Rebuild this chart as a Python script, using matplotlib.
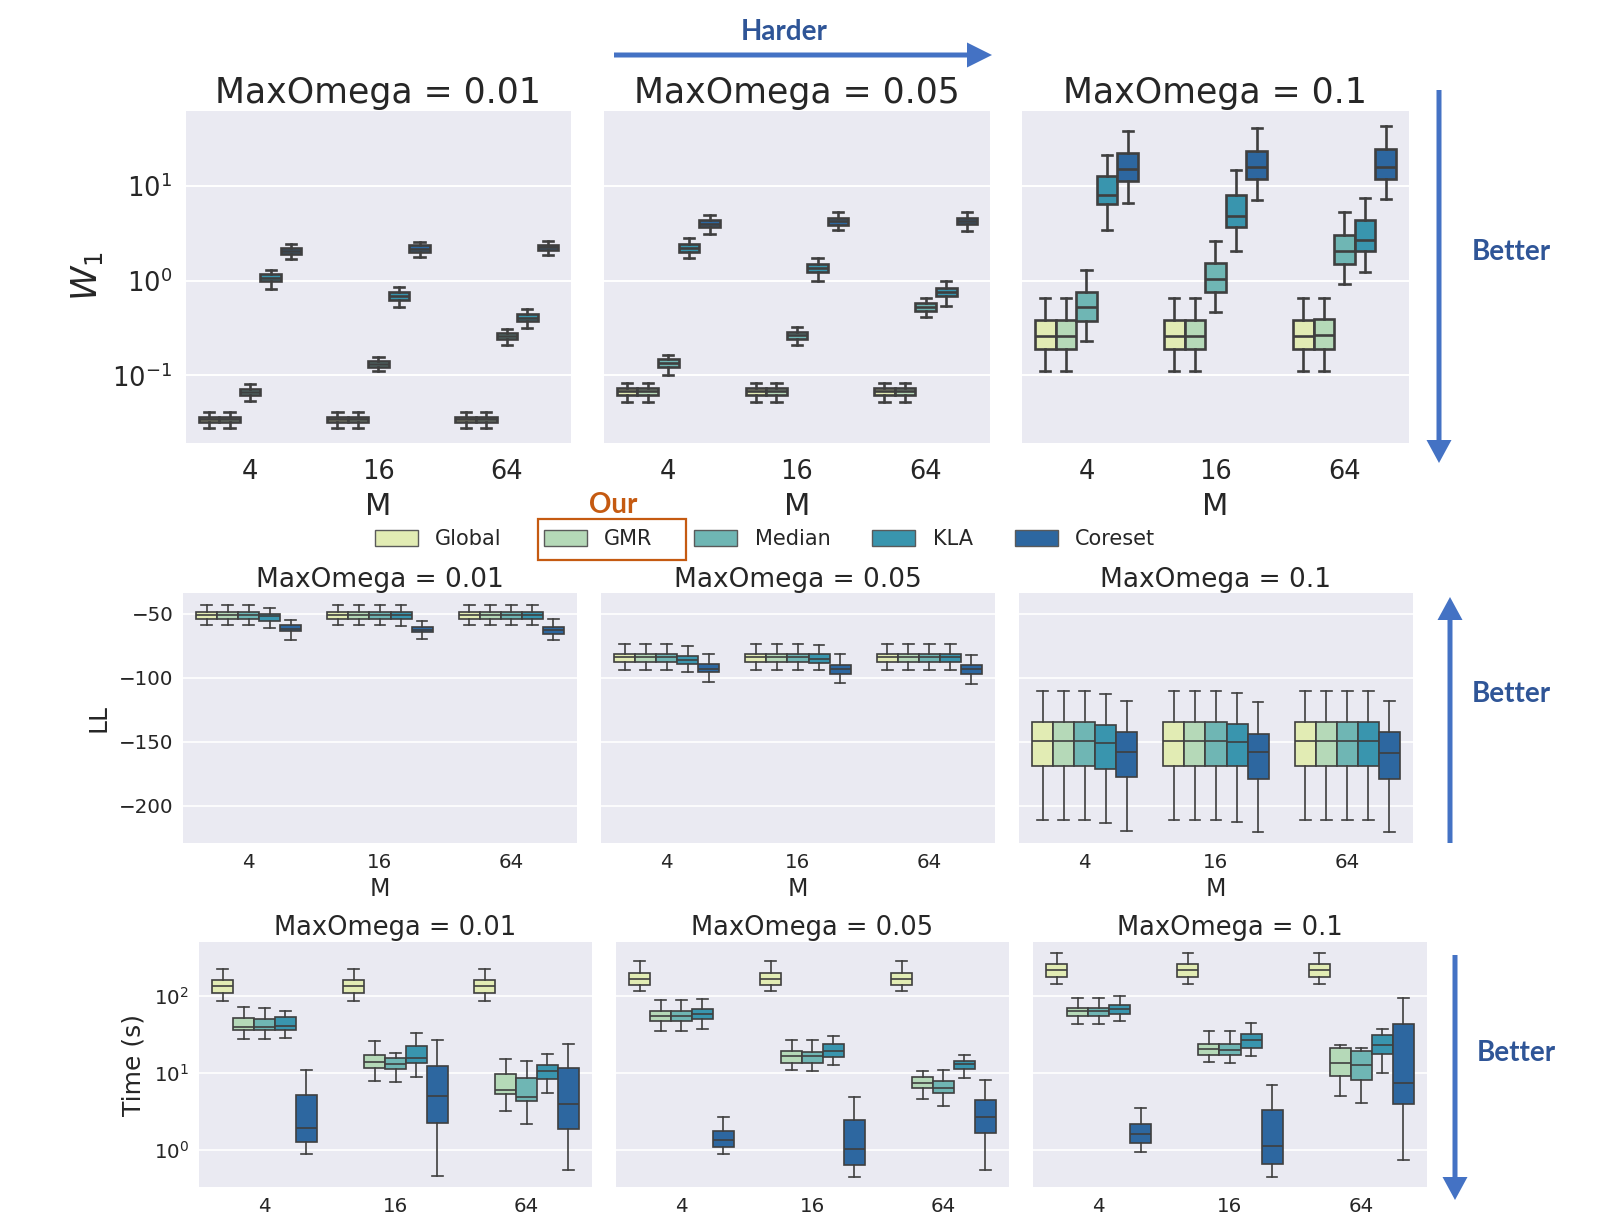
import matplotlib
matplotlib.use("Agg")
import matplotlib.pyplot as plt
from matplotlib.patches import Patch, Rectangle

# ---------------- data (whislo, q1, median, q3, whishi) ----------------
methods = ["Global", "GMR", "Median", "KLA", "Coreset"]
M_labels = ["4", "16", "64"]
omega_labels = ["0.01", "0.05", "0.1"]
colors = ["#e2ecb4", "#b5d9b8", "#6fb6b4", "#3995ae", "#2d67a0"]

W1_001 = [
    [[0.0275, 0.0320, 0.0347, 0.0364, 0.0408], [0.0275, 0.0320, 0.0347, 0.0364, 0.0408],
     [0.0532, 0.0616, 0.0668, 0.0724, 0.0817], [0.824, 0.992, 1.08, 1.17, 1.29],
     [1.72, 1.92, 2.07, 2.22, 2.47]],
    [[0.0275, 0.0320, 0.0347, 0.0364, 0.0408], [0.0275, 0.0320, 0.0347, 0.0364, 0.0408],
     [0.110, 0.122, 0.133, 0.143, 0.156], [0.532, 0.626, 0.690, 0.766, 0.865],
     [1.79, 2.02, 2.19, 2.37, 2.58]],
    [[0.0275, 0.0320, 0.0347, 0.0364, 0.0408], [0.0275, 0.0320, 0.0347, 0.0364, 0.0408],
     [0.210, 0.241, 0.258, 0.279, 0.308], [0.313, 0.376, 0.408, 0.443, 0.499],
     [1.86, 2.10, 2.28, 2.41, 2.62]],
]
W1_005 = [
    [[0.0524, 0.0616, 0.0679, 0.0736, 0.0830], [0.0524, 0.0616, 0.0679, 0.0736, 0.0830],
     [0.102, 0.122, 0.135, 0.149, 0.165], [1.75, 2.00, 2.22, 2.43, 2.84],
     [3.15, 3.70, 4.02, 4.36, 4.99]],
    [[0.0524, 0.0616, 0.0679, 0.0736, 0.0830], [0.0524, 0.0616, 0.0679, 0.0736, 0.0830],
     [0.209, 0.241, 0.264, 0.290, 0.323], [1.00, 1.23, 1.38, 1.52, 1.75],
     [3.41, 3.85, 4.25, 4.64, 5.28]],
    [[0.0524, 0.0616, 0.0679, 0.0736, 0.0830], [0.0524, 0.0616, 0.0679, 0.0736, 0.0830],
     [0.411, 0.480, 0.528, 0.577, 0.652], [0.541, 0.695, 0.766, 0.838, 1.00],
     [3.39, 3.95, 4.29, 4.64, 5.30]],
]
W1_01 = [
    [[0.112, 0.191, 0.258, 0.385, 0.662], [0.112, 0.191, 0.258, 0.385, 0.662],
     [0.233, 0.380, 0.524, 0.766, 1.285], [3.47, 6.41, 8.17, 12.9, 21.4],
     [6.68, 11.3, 15.2, 22.2, 38.5]],
    [[0.112, 0.191, 0.258, 0.385, 0.662], [0.112, 0.191, 0.258, 0.385, 0.662],
     [0.465, 0.754, 1.04, 1.55, 2.62], [2.07, 3.70, 4.83, 8.11, 14.7],
     [7.07, 11.8, 15.8, 23.5, 40.8]],
    [[0.112, 0.191, 0.258, 0.385, 0.662], [0.112, 0.191, 0.267, 0.392, 0.662],
     [0.923, 1.52, 2.05, 3.07, 5.32], [1.24, 2.05, 2.68, 4.36, 7.54],
     [7.24, 11.8, 16.1, 24.7, 43.2]],
]

LL_001 = [
    [[-59.1, -53.9, -51.3, -48.7, -43.0], [-59.1, -53.9, -51.3, -48.7, -43.0],
     [-59.1, -53.9, -51.3, -48.7, -43.0], [-61.2, -55.7, -52.1, -50.0, -45.6],
     [-70.3, -63.8, -61.7, -59.1, -54.7]],
    [[-59.1, -53.9, -51.3, -48.7, -43.0], [-59.1, -53.9, -51.3, -48.7, -43.0],
     [-59.1, -53.9, -51.3, -48.7, -43.0], [-59.9, -54.4, -51.3, -49.2, -43.5],
     [-70.0, -64.8, -62.5, -60.4, -56.0]],
    [[-59.1, -53.9, -51.3, -48.7, -43.0], [-59.1, -53.9, -51.3, -48.7, -43.0],
     [-59.1, -53.9, -51.3, -48.7, -43.0], [-59.1, -53.9, -51.3, -48.7, -43.0],
     [-70.8, -65.6, -63.0, -60.4, -53.9]],
]
LL_005 = [
    [[-93.7, -87.7, -84.3, -81.2, -73.9], [-93.7, -87.7, -84.3, -81.2, -73.9],
     [-93.7, -87.7, -84.3, -81.2, -73.9], [-95.8, -89.5, -85.9, -83.0, -75.5],
     [-103.8, -96.0, -92.9, -89.0, -81.7]],
    [[-93.7, -87.7, -84.3, -81.2, -73.9], [-93.7, -87.7, -84.3, -81.2, -73.9],
     [-93.7, -87.7, -84.3, -81.2, -73.9], [-94.2, -88.5, -85.1, -81.7, -74.2],
     [-104.1, -97.1, -93.4, -90.0, -81.7]],
    [[-93.7, -87.7, -84.3, -81.2, -73.9], [-93.7, -87.7, -84.3, -81.2, -73.9],
     [-93.7, -87.7, -84.3, -81.2, -73.9], [-93.7, -87.7, -84.3, -81.2, -73.9],
     [-104.6, -97.3, -93.4, -90.0, -82.5]],
]
LL_01 = [
    [[-211.2, -168.6, -149.1, -134.8, -110.6], [-211.2, -168.6, -149.1, -134.8, -110.6],
     [-211.2, -168.6, -149.1, -134.8, -110.6], [-213.3, -171.1, -151.1, -136.7, -112.7],
     [-219.5, -177.4, -157.9, -142.6, -117.9]],
    [[-211.2, -168.6, -149.1, -134.8, -110.6], [-211.2, -168.6, -149.1, -134.8, -110.6],
     [-211.2, -168.6, -149.1, -134.8, -110.6], [-212.5, -169.1, -150.1, -135.8, -111.9],
     [-220.8, -178.7, -158.4, -143.7, -118.9]],
    [[-211.2, -168.6, -149.1, -134.8, -110.6], [-211.2, -168.6, -149.1, -134.8, -110.6],
     [-211.2, -168.6, -149.1, -134.8, -110.6], [-211.2, -168.6, -149.1, -134.8, -110.6],
     [-220.8, -178.7, -158.7, -142.6, -118.4]],
]

T_001 = [
    [[85.3, 110, 134, 160, 222], [27.9, 35.7, 39.5, 51.8, 72.0],
     [27.9, 35.7, 39.5, 50.7, 69.6], [28.4, 36.5, 40.7, 53.4, 63.1],
     [0.887, 1.26, 1.91, 5.09, 10.8]],
    [[85.3, 110, 134, 160, 222], [7.75, 11.7, 13.8, 17.2, 25.7],
     [7.60, 11.3, 13.2, 15.6, 18.1], [8.83, 13.4, 15.6, 22.3, 33.3],
     [0.454, 2.22, 4.94, 12.3, 27.0]],
    [[85.3, 110, 134, 160, 222], [3.18, 5.36, 6.04, 9.55, 15.0],
     [2.18, 4.26, 4.84, 8.57, 14.1], [5.47, 8.39, 10.5, 12.5, 17.7],
     [0.550, 1.84, 3.89, 11.6, 24.0]],
]
T_005 = [
    [[116, 140, 165, 199, 282], [35.0, 47.3, 54.9, 63.1, 89.6],
     [35.0, 47.3, 54.9, 63.1, 89.6], [36.8, 49.7, 58.9, 67.0, 91.4],
     [0.887, 1.08, 1.35, 1.73, 2.66]],
    [[116, 140, 165, 199, 282], [10.8, 13.6, 16.6, 19.2, 27.0],
     [10.6, 13.4, 16.8, 18.7, 26.6], [12.8, 16.1, 19.1, 24.0, 30.1],
     [0.441, 0.625, 1.03, 2.41, 4.84]],
    [[116, 140, 165, 199, 282], [4.52, 6.42, 7.38, 8.83, 10.5],
     [3.70, 5.47, 6.36, 7.75, 10.8], [8.65, 11.3, 12.9, 14.3, 17.2],
     [0.550, 1.65, 2.66, 4.48, 7.98]],
]
T_01 = [
    [[145, 177, 216, 258, 363], [43.6, 54.3, 63.1, 70.5, 95.1],
     [43.6, 54.3, 63.1, 70.5, 95.1], [46.8, 57.7, 68.4, 75.6, 100],
     [0.933, 1.23, 1.59, 2.14, 3.48]],
    [[145, 177, 216, 258, 363], [13.8, 17.2, 20.2, 24.0, 34.7],
     [13.6, 17.2, 19.7, 24.0, 34.7], [16.6, 21.0, 26.5, 31.7, 44.6],
     [0.441, 0.658, 1.12, 3.25, 7.01]],
    [[145, 177, 216, 258, 363], [4.94, 9.10, 13.6, 21.0, 22.8],
     [4.09, 7.98, 12.5, 19.2, 21.0], [9.96, 17.7, 22.8, 30.7, 37.6],
     [0.741, 3.97, 7.38, 42.8, 94.2]],
]

# ---------------- figure ----------------
Wpx, Hpx = 1606, 1223
fig = plt.figure(figsize=(Wpx / 100, Hpx / 100), dpi=100)
plt.rcParams['font.family'] = ['DejaVu Sans']
plt.rcParams['mathtext.fontset'] = 'dejavusans'

BG = "#EAEAF2"
LINE = "#3f3f3f"
TXT = "#262626"
ARROW = "#4472c4"
BLUE_TXT = "#2f5597"
ORANGE = "#c55a11"


def add_ax(x0, x1, y0, y1):
    return fig.add_axes([x0 / Wpx, 1 - y1 / Hpx, (x1 - x0) / Wpx, (y1 - y0) / Hpx])


def draw_panel(ax, stats, lw, gridlw):
    ax.set_facecolor(BG)
    for s in ax.spines.values():
        s.set_visible(False)
    ax.set_axisbelow(True)
    ax.grid(axis="y", color="white", linewidth=gridlw, which="major")
    ax.grid(axis="x", visible=False)
    for g, group in enumerate(stats):
        for j, s in enumerate(group):
            d = dict(whislo=s[0], q1=s[1], med=s[2], q3=s[3], whishi=s[4])
            ax.bxp([d], positions=[g + (j - 2) * 0.16], widths=0.16,
                   patch_artist=True, showfliers=False, manage_ticks=False,
                   boxprops=dict(facecolor=colors[j], edgecolor=LINE, linewidth=lw),
                   medianprops=dict(color=LINE, linewidth=lw),
                   whiskerprops=dict(color=LINE, linewidth=lw),
                   capprops=dict(color=LINE, linewidth=lw))
    ax.set_xlim(-0.5, 2.5)
    ax.set_xticks(range(len(M_labels)))
    ax.set_xticklabels(M_labels)


# Row 1: W1
row1_x = [(186, 571), (604, 990), (1022, 1409)]
row1 = [W1_001, W1_005, W1_01]
for i, ((x0, x1), st) in enumerate(zip(row1_x, row1)):
    ax = add_ax(x0, x1, 110.6, 442.5)
    ax.set_yscale("log")
    draw_panel(ax, st, 1.9, 1.4)
    ax.set_ylim(0.0195, 63)
    ax.minorticks_off()
    ax.tick_params(axis="both", length=0, labelsize=18.5, colors=TXT)
    ax.tick_params(axis="x", pad=12)
    ax.tick_params(axis="y", pad=10)
    ax.set_title("MaxOmega = " + omega_labels[i], fontsize=25, color=TXT, pad=5.5)
    ax.set_xlabel("M", fontsize=22, color=TXT, labelpad=5)
    if i == 0:
        ax.set_ylabel("$W_1$", fontsize=25, color=TXT, labelpad=5)
    else:
        ax.set_yticklabels([])

# Row 2: LL
row2_x = [(183, 577), (601, 995), (1019, 1413)]
row2 = [LL_001, LL_005, LL_01]
for i, ((x0, x1), st) in enumerate(zip(row2_x, row2)):
    ax = add_ax(x0, x1, 593, 843)
    draw_panel(ax, st, 1.2, 1.2)
    ax.set_ylim(-229, -34)
    ax.set_yticks([-50, -100, -150, -200])
    ax.tick_params(axis="both", length=0, labelsize=14.3, colors=TXT, pad=7)
    ax.set_title("MaxOmega = " + omega_labels[i], fontsize=19, color=TXT, pad=4)
    ax.set_xlabel("M", fontsize=17, color=TXT, labelpad=4)
    if i == 0:
        ax.set_ylabel("LL", fontsize=18, color=TXT, labelpad=6)
    else:
        ax.set_yticklabels([])

# Row 3: Time
row3_x = [(199, 592), (616, 1009), (1033, 1427)]
row3 = [T_001, T_005, T_01]
for i, ((x0, x1), st) in enumerate(zip(row3_x, row3)):
    ax = add_ax(x0, x1, 942, 1187)
    ax.set_yscale("log")
    draw_panel(ax, st, 1.2, 1.2)
    ax.set_ylim(0.326, 505)
    ax.minorticks_off()
    ax.tick_params(axis="both", length=0, labelsize=14.3, colors=TXT, pad=7)
    ax.set_title("MaxOmega = " + omega_labels[i], fontsize=18.5, color=TXT, pad=4.7)
    if i == 0:
        ax.set_ylabel("Time (s)", fontsize=18, color=TXT, labelpad=6)
    else:
        ax.set_yticklabels([])

# Legend
handles = [Patch(facecolor=c, edgecolor="#5a5a5a", linewidth=1.0, label=m)
           for c, m in zip(colors, methods)]
fig.legend(handles=handles, loc="center", bbox_to_anchor=(765 / Wpx, 1 - 539 / Hpx),
           ncol=5, frameon=False, fontsize=15, handlelength=2.07, handleheight=0.77,
           handletextpad=0.84, columnspacing=2.0, labelcolor=TXT)

# Overlay annotations
ov = fig.add_axes([0, 0, 1, 1], zorder=10)
ov.set_xlim(0, Wpx)
ov.set_ylim(Hpx, 0)
ov.axis("off")
ov.patch.set_alpha(0)

ov.arrow(614, 55, 992 - 614, 0, width=5, head_width=25, head_length=25,
         length_includes_head=True, color=ARROW, lw=0)
ov.text(784.5, 32, "Harder", fontsize=20, fontweight="bold", color=BLUE_TXT,
        ha="center", va="center", family="Lato")

ov.arrow(1439, 90, 0, 463 - 90, width=5, head_width=25, head_length=23,
         length_includes_head=True, color=ARROW, lw=0)
ov.arrow(1450, 843, 0, 597 - 843, width=5, head_width=25, head_length=23,
         length_includes_head=True, color=ARROW, lw=0)
ov.arrow(1455, 955, 0, 1200 - 955, width=5, head_width=25, head_length=23,
         length_includes_head=True, color=ARROW, lw=0)
for (bx, by) in [(1511, 252), (1511, 694), (1516, 1053)]:
    ov.text(bx, by, "Better", fontsize=20, fontweight="bold", color=BLUE_TXT,
            ha="center", va="center", family="Lato")

ov.add_patch(Rectangle((538, 519), 148, 41, fill=False, edgecolor=ORANGE, linewidth=1.6))
ov.text(613.5, 505, "Our", fontsize=20, fontweight="bold", color=ORANGE,
        ha="center", va="center", family="Lato")

fig.savefig("out.png", dpi=100)
